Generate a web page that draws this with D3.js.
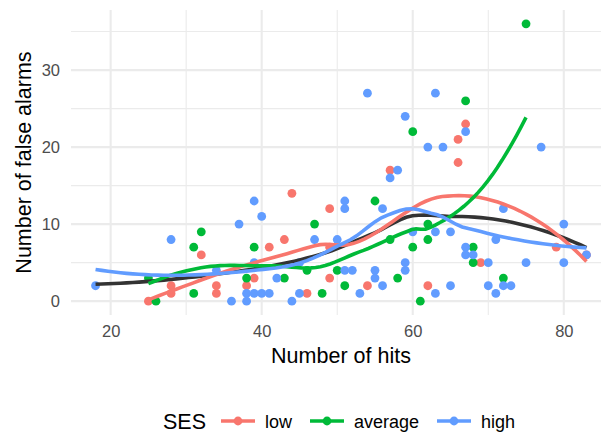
<!DOCTYPE html>
<html>
<head>
<meta charset="utf-8">
<script src="https://cdn.jsdelivr.net/npm/d3@7"></script>
<style>
  html, body { margin: 0; padding: 0; background: #fff; }
  svg { display: block; font-family: "Liberation Sans", Arial, sans-serif; }
</style>
</head>
<body>
<svg id="chart" width="601" height="432"></svg>
<script>
// Hits and false alarms per child, split by socio-economic status
const lowHits = [25, 28, 28, 32, 34, 34, 38, 39, 41, 43, 44, 46, 49, 49, 49, 54, 57, 62, 66, 66, 67, 69, 79, 83];
const lowFalseAlarms = [0, 2, 1, 6, 2, 1, 2, 3, 7, 8, 14, 1, 12, 7, 3, 2, 17, 2, 21, 18, 23, 5, 7, 6];

const averageHits = [25, 26, 31, 31, 32, 38, 39, 43, 46, 47, 48, 50, 51, 55, 57, 58, 60, 60, 61, 62, 62, 67, 68, 68, 72, 75];
const averageFalseAlarms = [3, 0, 7, 1, 9, 3, 7, 3, 4, 10, 1, 4, 2, 13, 8, 3, 22, 7, 0, 10, 8, 26, 7, 5, 3, 36];

const highHits = [18, 28, 34, 36, 37, 38, 38, 39, 39, 39, 40, 40, 41, 42, 44, 45, 45, 47, 50, 51, 51, 51, 52, 53, 54, 55, 55, 56, 56, 57, 58, 59, 59, 59, 60, 62, 63, 63, 63, 64, 65, 65, 67, 67, 67, 68, 70, 70, 71, 71, 72, 72, 73, 75, 77, 80, 80, 83];
const highFalseAlarms = [2, 8, 4, 0, 10, 0, 1, 1, 13, 5, 1, 11, 1, 3, 0, 1, 5, 8, 8, 13, 12, 4, 4, 1, 27, 4, 3, 12, 2, 16, 17, 24, 5, 4, 9, 20, 27, 9, 1, 20, 9, 2, 22, 7, 6, 6, 5, 2, 8, 1, 12, 2, 2, 5, 20, 10, 5, 6];

const sesLevels = ["low", "average", "high"];
const sesColors = ["#F8766D", "#00BA38", "#619CFF"];
const xTicks = [20, 40, 60, 80];
const xMinorTicks = [30, 50, 70];
const yTicks = [0, 10, 20, 30];
const yMinorTicks = [5, 15, 25, 35];

const groups = [
  { ses: "low", hits: lowHits, fa: lowFalseAlarms },
  { ses: "average", hits: averageHits, fa: averageFalseAlarms },
  { ses: "high", hits: highHits, fa: highFalseAlarms }
];

// ---- loess (degree 2, span 0.75, tricube), with kd-cell vertex fits and
// cubic Hermite interpolation between vertices, like R's default surface
function localFit(xs, ys, q, x0) {
  const n = xs.length;
  const dist = xs.map(x => Math.abs(x - x0));
  const sorted = dist.slice().sort((a, b) => a - b);
  let h = sorted[q - 1];
  if (h <= 0) h = 1e-9;
  const S = [[0,0,0],[0,0,0],[0,0,0]], b = [0,0,0];
  for (let i = 0; i < n; i++) {
    const u = dist[i] / h;
    if (u >= 1) continue;
    const w = Math.pow(1 - u * u * u, 3);
    const dx = xs[i] - x0;
    const f = [1, dx, dx * dx];
    for (let r = 0; r < 3; r++) {
      b[r] += w * f[r] * ys[i];
      for (let c = 0; c < 3; c++) S[r][c] += w * f[r] * f[c];
    }
  }
  const beta = solve3(S, b);
  return { value: beta[0], slope: beta[1] };
}
function solve3(A, b) {
  const M = A.map((row, i) => row.concat([b[i]]));
  for (let c = 0; c < 3; c++) {
    let p = c;
    for (let r = c + 1; r < 3; r++) if (Math.abs(M[r][c]) > Math.abs(M[p][c])) p = r;
    [M[c], M[p]] = [M[p], M[c]];
    for (let r = 0; r < 3; r++) {
      if (r === c) continue;
      const f = M[r][c] / M[c][c];
      for (let k = c; k < 4; k++) M[r][k] -= f * M[c][k];
    }
  }
  return [M[0][3] / M[0][0], M[1][3] / M[1][1], M[2][3] / M[2][2]];
}
function loess(xs, ys, span, nOut) {
  const n = xs.length;
  const q = Math.floor(n * span);
  const fc = Math.floor(n * span * 0.2);
  const lo = d3.min(xs), hi = d3.max(xs);
  const margin = 0.005 * (hi - lo);
  const sortedX = xs.slice().sort((a, b) => a - b);
  const verts = new Set([lo - margin, hi + margin]);
  (function split(pts, a, bnd) {
    if (pts.length <= fc) return;
    const m = Math.floor((pts.length - 1) / 2);
    const v = (pts[m] + pts[m + 1]) / 2;
    if (v <= a || v >= bnd) return;
    verts.add(v);
    split(pts.filter(p => p <= v), a, v);
    split(pts.filter(p => p > v), v, bnd);
  })(sortedX, lo - margin, hi + margin);
  const vx = Array.from(verts).sort((a, b) => a - b);
  const vf = vx.map(v => localFit(xs, ys, q, v));
  const out = [];
  for (let k = 0; k < nOut; k++) {
    const x0 = lo + (hi - lo) * k / (nOut - 1);
    let j = d3.bisectRight(vx, x0) - 1;
    j = Math.max(0, Math.min(vx.length - 2, j));
    const h = vx[j + 1] - vx[j];
    const t = (x0 - vx[j]) / h;
    const h00 = 2*t*t*t - 3*t*t + 1, h10 = t*t*t - 2*t*t + t;
    const h01 = -2*t*t*t + 3*t*t, h11 = t*t*t - t*t;
    const yv = h00 * vf[j].value + h10 * h * vf[j].slope + h01 * vf[j + 1].value + h11 * h * vf[j + 1].slope;
    out.push([x0, yv]);
  }
  return out;
}

const svg = d3.select("#chart");
const panel = { left: 71, right: 611, top: 10, bottom: 315 };

const allHits = [].concat(lowHits, averageHits, highHits);
const allFA = [].concat(lowFalseAlarms, averageFalseAlarms, highFalseAlarms);
const xExt = d3.extent(allHits), yExt = d3.extent(allFA);
const xPad = (xExt[1] - xExt[0]) * 0.05, yPad = (yExt[1] - yExt[0]) * 0.05;

const x = d3.scaleLinear().domain([xExt[0] - xPad, xExt[1] + xPad]).range([panel.left, panel.right]);
const y = d3.scaleLinear().domain([yExt[0] - yPad, yExt[1] + yPad]).range([panel.bottom, panel.top]);
const color = d3.scaleOrdinal().domain(sesLevels).range(sesColors);

// grid
const grid = svg.append("g");
grid.selectAll(".vmin").data(xMinorTicks).join("line")
  .attr("x1", d => x(d)).attr("x2", d => x(d)).attr("y1", panel.top).attr("y2", panel.bottom)
  .attr("stroke", "#EBEBEB").attr("stroke-width", 1.1);
grid.selectAll(".hmin").data(yMinorTicks).join("line")
  .attr("x1", panel.left).attr("x2", panel.right).attr("y1", d => y(d)).attr("y2", d => y(d))
  .attr("stroke", "#EBEBEB").attr("stroke-width", 1.1);
grid.selectAll(".vmaj").data(xTicks).join("line")
  .attr("x1", d => x(d)).attr("x2", d => x(d)).attr("y1", panel.top).attr("y2", panel.bottom)
  .attr("stroke", "#EBEBEB").attr("stroke-width", 2.1);
grid.selectAll(".hmaj").data(yTicks).join("line")
  .attr("x1", panel.left).attr("x2", panel.right).attr("y1", d => y(d)).attr("y2", d => y(d))
  .attr("stroke", "#EBEBEB").attr("stroke-width", 2.1);

// axes (labels only)
const xAxis = svg.append("g").attr("transform", `translate(0,${panel.bottom})`)
  .call(d3.axisBottom(x).tickValues(xTicks).tickSize(0).tickPadding(10));
const yAxis = svg.append("g").attr("transform", `translate(${panel.left},0)`)
  .call(d3.axisLeft(y).tickValues(yTicks).tickSize(0).tickPadding(11));
[xAxis, yAxis].forEach(a => {
  a.select(".domain").remove();
  a.selectAll("text").attr("fill", "#4D4D4D").style("font-size", "16.5px").style("font-family", "Liberation Sans, Arial, sans-serif");
});

// points
groups.forEach(g => {
  svg.append("g").selectAll("circle").data(g.hits.map((h, i) => [h, g.fa[i]])).join("circle")
    .attr("cx", d => x(d[0])).attr("cy", d => y(d[1])).attr("r", 4.4)
    .attr("fill", color(g.ses));
});

// smooths: overall, then per group
const line = d3.line().x(d => x(d[0])).y(d => y(d[1]));
svg.append("path").datum(loess(allHits, allFA, 0.75, 80))
  .attr("d", line).attr("fill", "none").attr("stroke", "#333333").attr("stroke-width", 3.6);
groups.forEach(g => {
  svg.append("path").datum(loess(g.hits, g.fa, 0.75, 80))
    .attr("d", line).attr("fill", "none").attr("stroke", color(g.ses)).attr("stroke-width", 3.6);
});

// axis titles
svg.append("text").attr("x", (panel.left + panel.right) / 2).attr("y", 363)
  .attr("text-anchor", "middle").attr("fill", "#000").style("font-size", "21.5px").text("Number of hits");
svg.append("text").attr("transform", `translate(31,${(panel.top + panel.bottom) / 2}) rotate(-90)`)
  .attr("text-anchor", "middle").attr("fill", "#000").style("font-size", "21.5px").text("Number of false alarms");

// legend
const legend = svg.append("g").attr("transform", "translate(163,421)");
legend.append("text").attr("x", 0).attr("y", 7.5).style("font-size", "21.5px").attr("fill", "#000").text("SES");
const keyX = [221, 310, 437];
sesLevels.forEach((s, i) => {
  const gx = keyX[i] - 163;
  legend.append("line").attr("x1", gx).attr("x2", gx + 34).attr("y1", 0).attr("y2", 0)
    .attr("stroke", color(s)).attr("stroke-width", 3.6);
  legend.append("circle").attr("cx", gx + 17).attr("cy", 0).attr("r", 4.4).attr("fill", color(s));
  legend.append("text").attr("x", gx + 44).attr("y", 6.5).style("font-size", "18px").attr("fill", "#000").text(s);
});
</script>
</body>
</html>
